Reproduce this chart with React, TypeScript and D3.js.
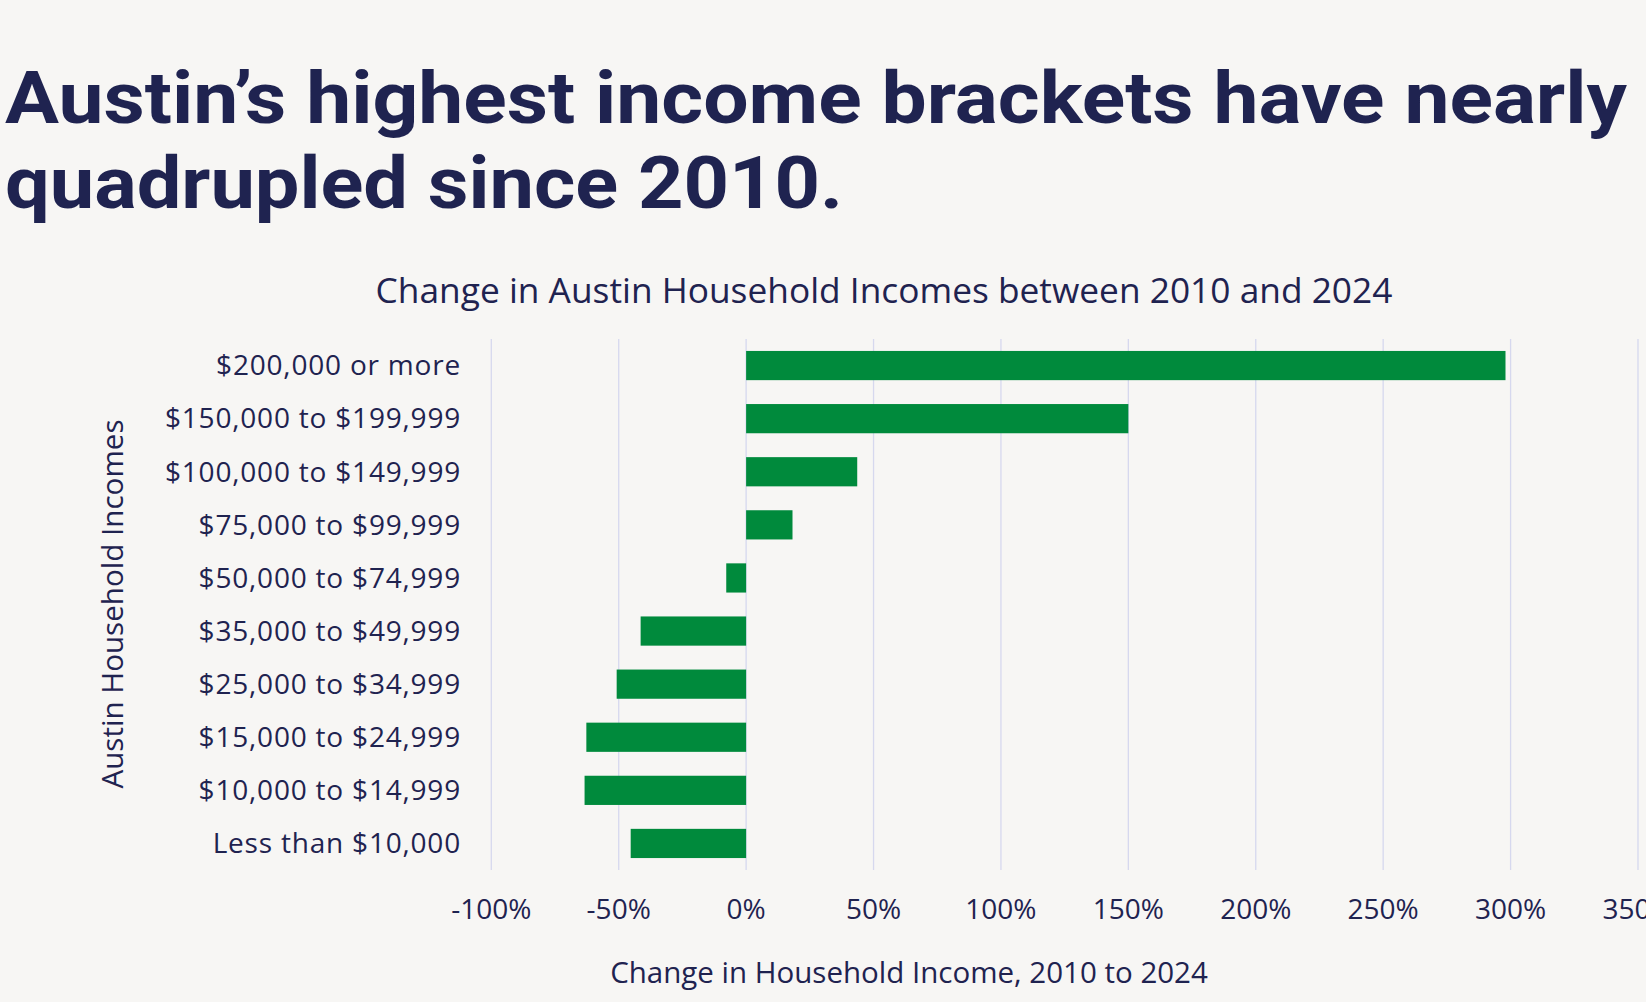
import React from "react";
import * as d3 from "d3";

// income brackets, top to bottom as shown
const brackets = [
  "$200,000 or more",
  "$150,000 to $199,999",
  "$100,000 to $149,999",
  "$75,000 to $99,999",
  "$50,000 to $74,999",
  "$35,000 to $49,999",
  "$25,000 to $34,999",
  "$15,000 to $24,999",
  "$10,000 to $14,999",
  "Less than $10,000",
];

// change 2010 -> 2024 (fraction)
const changes = [2.98, 1.5, 0.436, 0.182, -0.078, -0.414, -0.508, -0.627, -0.634, -0.453];

const xTicks = [-1, -0.5, 0, 0.5, 1, 1.5, 2, 2.5, 3, 3.5];

const titleLines = ["Austin\u2019s highest income brackets have nearly", "quadrupled since 2010."];
const chartTitle = "Change in Austin Household Incomes between 2010 and 2024";
const xTitle = "Change in Household Income, 2010 to 2024";
const yTitle = "Austin Household Incomes";

const W = 1646;
const H = 1002;
const ink = "#1f2350";
const green = "#008a3c";
const grid = "#d6d8ee";
const bg = "#f7f6f4";
const font = "'Open Sans', sans-serif";

export default function App() {
  const plot = { left: 491.3, right: 1638, top: 339, bottom: 870 };

  const x = d3.scaleLinear().domain([-1, 3.5]).range([plot.left, plot.right]);
  const y = d3
    .scaleBand<string>()
    .domain(brackets)
    .range([plot.top, plot.bottom])
    .paddingInner(0.45)
    .paddingOuter(0.225);

  // plain hyphen for negatives, like the original
  const fmt = (v: number) => d3.format(".0%")(v).replace("\u2212", "-");

  return (
    <div style={{ position: "absolute", left: 0, top: 0 }}>
      <svg width={W} height={H} style={{ display: "block" }}>
        <rect width={W} height={H} fill={bg} />

        {/* headline */}
        <g fontFamily="Roboto, sans-serif" fontWeight={700} fontSize={72} fill={ink}>
          <text x={5} y={123} textLength={1622} lengthAdjust="spacingAndGlyphs">
            {titleLines[0]}
          </text>
          <text x={5} y={208} textLength={838} lengthAdjust="spacingAndGlyphs">
            {titleLines[1]}
          </text>
        </g>

        <text x={884} y={303} textAnchor="middle" fontFamily={font} fontSize={35.3} fill={ink}>
          {chartTitle}
        </text>

        {/* gridlines */}
        {xTicks.map((t) => (
          <line
            key={t}
            x1={x(t)}
            x2={x(t)}
            y1={plot.top}
            y2={plot.bottom}
            stroke={grid}
            strokeWidth={1.3}
          />
        ))}

        {/* bars */}
        {brackets.map((b, i) => {
          const v = changes[i];
          return (
            <rect
              key={b}
              x={x(Math.min(0, v))}
              y={y(b)}
              width={Math.abs(x(v) - x(0))}
              height={y.bandwidth()}
              fill={green}
            />
          );
        })}

        {/* category labels */}
        {brackets.map((b) => (
          <text
            key={b}
            x={461}
            y={(y(b) ?? 0) + y.bandwidth() / 2}
            dy="0.35em"
            textAnchor="end"
            fontFamily={font}
            fontSize={28}
            letterSpacing={0.8}
            fill={ink}
          >
            {b}
          </text>
        ))}

        {/* x tick labels */}
        {xTicks.map((t) => (
          <text
            key={t}
            x={x(t)}
            y={919}
            textAnchor="middle"
            fontFamily={font}
            fontSize={28}
            fill={ink}
          >
            {fmt(t)}
          </text>
        ))}

        <text x={909} y={983} textAnchor="middle" fontFamily={font} fontSize={29.5} fill={ink}>
          {xTitle}
        </text>

        <text
          transform={`translate(123, 604) rotate(-90)`}
          textAnchor="middle"
          fontFamily={font}
          fontSize={29.6}
          fill={ink}
        >
          {yTitle}
        </text>
      </svg>
    </div>
  );
}
